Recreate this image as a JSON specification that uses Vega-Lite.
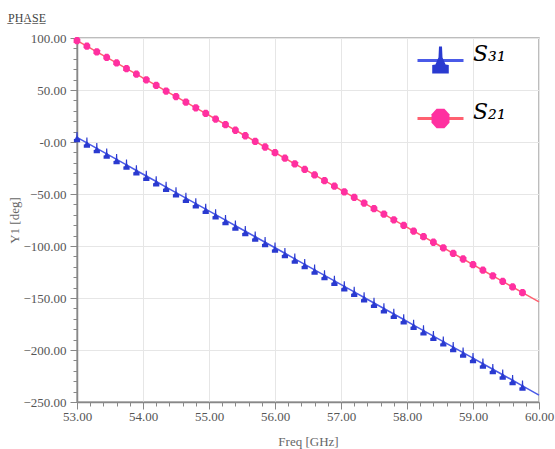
{
  "$schema": "https://vega.github.io/schema/vega-lite/v6.json",
  "width": 462,
  "height": 364,
  "autosize": "none",
  "padding": {"left": 77, "top": 38, "right": 16, "bottom": 47},
  "background": "white",
  "title": {
    "text": "P̲H̲A̲S̲E̲",
    "anchor": "start",
    "frame": "group",
    "dx": -69,
    "offset": -2,
    "baseline": "alphabetic",
    "font": "Liberation Serif",
    "fontSize": 12,
    "fontWeight": "normal",
    "color": "#444"
  },
  "config": {
    "view": {"stroke": "#a8a8a8", "strokeWidth": 1.5},
    "axis": {
      "labelFont": "Liberation Serif",
      "labelFontSize": 13,
      "labelColor": "#555",
      "titleFont": "Liberation Serif",
      "titleFontSize": 13,
      "titleFontWeight": "normal",
      "titleColor": "#666",
      "domainColor": "#888",
      "domainWidth": 1.5,
      "tickColor": "#888",
      "gridColor": "#e6e6e6",
      "labelOverlap": false,
      "labelFlush": false
    }
  },
  "data": {
    "values": [
      {"f": 53.00, "p": 97.5, "s": "S₂₁"},
      {"f": 53.15, "p": 92.1, "s": "S₂₁"},
      {"f": 53.30, "p": 86.7, "s": "S₂₁"},
      {"f": 53.45, "p": 81.3, "s": "S₂₁"},
      {"f": 53.60, "p": 76.0, "s": "S₂₁"},
      {"f": 53.75, "p": 70.6, "s": "S₂₁"},
      {"f": 53.90, "p": 65.2, "s": "S₂₁"},
      {"f": 54.05, "p": 59.8, "s": "S₂₁"},
      {"f": 54.20, "p": 54.4, "s": "S₂₁"},
      {"f": 54.35, "p": 49.0, "s": "S₂₁"},
      {"f": 54.50, "p": 43.7, "s": "S₂₁"},
      {"f": 54.65, "p": 38.3, "s": "S₂₁"},
      {"f": 54.80, "p": 32.9, "s": "S₂₁"},
      {"f": 54.95, "p": 27.5, "s": "S₂₁"},
      {"f": 55.10, "p": 22.1, "s": "S₂₁"},
      {"f": 55.25, "p": 16.7, "s": "S₂₁"},
      {"f": 55.40, "p": 11.3, "s": "S₂₁"},
      {"f": 55.55, "p": 6.0, "s": "S₂₁"},
      {"f": 55.70, "p": 0.6, "s": "S₂₁"},
      {"f": 55.85, "p": -4.8, "s": "S₂₁"},
      {"f": 56.00, "p": -10.2, "s": "S₂₁"},
      {"f": 56.15, "p": -15.6, "s": "S₂₁"},
      {"f": 56.30, "p": -21.0, "s": "S₂₁"},
      {"f": 56.45, "p": -26.4, "s": "S₂₁"},
      {"f": 56.60, "p": -31.7, "s": "S₂₁"},
      {"f": 56.75, "p": -37.1, "s": "S₂₁"},
      {"f": 56.90, "p": -42.5, "s": "S₂₁"},
      {"f": 57.05, "p": -47.9, "s": "S₂₁"},
      {"f": 57.20, "p": -53.3, "s": "S₂₁"},
      {"f": 57.35, "p": -58.7, "s": "S₂₁"},
      {"f": 57.50, "p": -64.1, "s": "S₂₁"},
      {"f": 57.65, "p": -69.4, "s": "S₂₁"},
      {"f": 57.80, "p": -74.8, "s": "S₂₁"},
      {"f": 57.95, "p": -80.2, "s": "S₂₁"},
      {"f": 58.10, "p": -85.6, "s": "S₂₁"},
      {"f": 58.25, "p": -91.0, "s": "S₂₁"},
      {"f": 58.40, "p": -96.4, "s": "S₂₁"},
      {"f": 58.55, "p": -101.7, "s": "S₂₁"},
      {"f": 58.70, "p": -107.1, "s": "S₂₁"},
      {"f": 58.85, "p": -112.5, "s": "S₂₁"},
      {"f": 59.00, "p": -117.9, "s": "S₂₁"},
      {"f": 59.15, "p": -123.3, "s": "S₂₁"},
      {"f": 59.30, "p": -128.7, "s": "S₂₁"},
      {"f": 59.45, "p": -134.1, "s": "S₂₁"},
      {"f": 59.60, "p": -139.4, "s": "S₂₁"},
      {"f": 59.75, "p": -144.8, "s": "S₂₁"},
      {"f": 60.00, "p": -153.8, "s": "S₂₁"},
      {"f": 53.00, "p": 4.5, "s": "S₃₁"},
      {"f": 53.15, "p": -0.8, "s": "S₃₁"},
      {"f": 53.30, "p": -6.1, "s": "S₃₁"},
      {"f": 53.45, "p": -11.4, "s": "S₃₁"},
      {"f": 53.60, "p": -16.7, "s": "S₃₁"},
      {"f": 53.75, "p": -22.0, "s": "S₃₁"},
      {"f": 53.90, "p": -27.4, "s": "S₃₁"},
      {"f": 54.05, "p": -32.7, "s": "S₃₁"},
      {"f": 54.20, "p": -38.0, "s": "S₃₁"},
      {"f": 54.35, "p": -43.3, "s": "S₃₁"},
      {"f": 54.50, "p": -48.6, "s": "S₃₁"},
      {"f": 54.65, "p": -53.9, "s": "S₃₁"},
      {"f": 54.80, "p": -59.2, "s": "S₃₁"},
      {"f": 54.95, "p": -64.5, "s": "S₃₁"},
      {"f": 55.10, "p": -69.8, "s": "S₃₁"},
      {"f": 55.25, "p": -75.2, "s": "S₃₁"},
      {"f": 55.40, "p": -80.5, "s": "S₃₁"},
      {"f": 55.55, "p": -85.8, "s": "S₃₁"},
      {"f": 55.70, "p": -91.1, "s": "S₃₁"},
      {"f": 55.85, "p": -96.4, "s": "S₃₁"},
      {"f": 56.00, "p": -101.7, "s": "S₃₁"},
      {"f": 56.15, "p": -107.0, "s": "S₃₁"},
      {"f": 56.30, "p": -112.3, "s": "S₃₁"},
      {"f": 56.45, "p": -117.6, "s": "S₃₁"},
      {"f": 56.60, "p": -122.9, "s": "S₃₁"},
      {"f": 56.75, "p": -128.3, "s": "S₃₁"},
      {"f": 56.90, "p": -133.6, "s": "S₃₁"},
      {"f": 57.05, "p": -138.9, "s": "S₃₁"},
      {"f": 57.20, "p": -144.2, "s": "S₃₁"},
      {"f": 57.35, "p": -149.5, "s": "S₃₁"},
      {"f": 57.50, "p": -154.8, "s": "S₃₁"},
      {"f": 57.65, "p": -160.1, "s": "S₃₁"},
      {"f": 57.80, "p": -165.4, "s": "S₃₁"},
      {"f": 57.95, "p": -170.7, "s": "S₃₁"},
      {"f": 58.10, "p": -176.0, "s": "S₃₁"},
      {"f": 58.25, "p": -181.4, "s": "S₃₁"},
      {"f": 58.40, "p": -186.7, "s": "S₃₁"},
      {"f": 58.55, "p": -192.0, "s": "S₃₁"},
      {"f": 58.70, "p": -197.3, "s": "S₃₁"},
      {"f": 58.85, "p": -202.6, "s": "S₃₁"},
      {"f": 59.00, "p": -207.9, "s": "S₃₁"},
      {"f": 59.15, "p": -213.2, "s": "S₃₁"},
      {"f": 59.30, "p": -218.5, "s": "S₃₁"},
      {"f": 59.45, "p": -223.8, "s": "S₃₁"},
      {"f": 59.60, "p": -229.1, "s": "S₃₁"},
      {"f": 59.75, "p": -234.5, "s": "S₃₁"},
      {"f": 60.00, "p": -243.3, "s": "S₃₁"}
    ]
  },
  "encoding": {
    "x": {
      "field": "f",
      "type": "quantitative",
      "scale": {"domain": [53, 60], "nice": false, "zero": false},
      "axis": {
        "title": "Freq [GHz]",
        "values": [53, 53.2, 53.4, 53.6, 53.8, 54, 54.2, 54.4, 54.6, 54.8, 55, 55.2, 55.4, 55.6, 55.8, 56, 56.2, 56.4, 56.6, 56.8, 57, 57.2, 57.4, 57.6, 57.8, 58, 58.2, 58.4, 58.6, 58.8, 59, 59.2, 59.4, 59.6, 59.8, 60],
        "labelExpr": "abs(datum.value - round(datum.value)) < 0.01 ? format(datum.value, '.2f') : ''",
        "tickSize": {"condition": {"test": "abs(datum.value - round(datum.value)) < 0.01", "value": 7}, "value": 4},
        "gridOpacity": {"condition": {"test": "abs(datum.value - round(datum.value)) < 0.01", "value": 1}, "value": 0},
        "labelPadding": 1,
        "titlePadding": 12
      }
    },
    "y": {
      "field": "p",
      "type": "quantitative",
      "scale": {"domain": [-250, 100], "nice": false, "zero": false},
      "axis": {
        "title": "Y1 [deg]",
        "values": [-250, -240, -230, -220, -210, -200, -190, -180, -170, -160, -150, -140, -130, -120, -110, -100, -90, -80, -70, -60, -50, -40, -30, -20, -10, 0, 10, 20, 30, 40, 50, 60, 70, 80, 90, 100],
        "labelExpr": "datum.value % 50 === 0 ? (datum.value === 0 ? '-0.00' : format(datum.value, '.2f')) : ''",
        "tickSize": {"condition": {"test": "datum.value % 50 === 0", "value": 7}, "value": 4},
        "gridOpacity": {"condition": {"test": "datum.value % 50 === 0", "value": 1}, "value": 0},
        "labelPadding": 4,
        "titlePadding": 1
      }
    }
  },
  "layer": [
    {
      "mark": {"type": "line", "strokeWidth": 1.5},
      "encoding": {
        "color": {
          "field": "s",
          "type": "nominal",
          "scale": {"domain": ["S₃₁", "S₂₁"], "range": ["#4a5ae8", "#ff6070"]},
          "legend": {
            "orient": "none",
            "legendX": 339,
            "legendY": -2,
            "title": null,
            "padding": 0,
            "symbolType": "stroke",
            "symbolSize": 2116,
            "symbolStrokeWidth": 3,
            "rowPadding": 27,
            "labelFont": "DejaVu Serif",
            "labelFontStyle": "italic",
            "labelFontSize": 22,
            "labelColor": "#000",
            "labelOffset": 8,
            "labelBaseline": "alphabetic",
            "encode": {
              "symbols": {
                "update": {
                  "stroke": {"signal": "datum.value === 'S₃₁' ? '#1030f0' : '#ff2020'"},
                  "strokeWidth": {"value": 3}
                }
              }
            }
          }
        }
      }
    },
    {
      "transform": [{"filter": "datum.f < 59.9"}],
      "mark": {"type": "point", "filled": true, "opacity": 1, "size": 300},
      "encoding": {
        "fill": {
          "field": "s",
          "type": "nominal",
          "sort": "descending",
          "scale": {"range": ["#2a3ad0", "#ff30a0"]},
          "legend": {
            "orient": "none",
            "legendX": 339,
            "legendY": -2,
            "title": null,
            "padding": 0,
            "symbolSize": 2116,
            "symbolStrokeWidth": 3,
            "symbolStrokeColor": "transparent",
            "rowPadding": 14,
            "labelFont": "DejaVu Serif",
            "labelFontStyle": "italic",
            "labelFontSize": 22,
            "labelColor": "transparent",
            "labelOffset": 8,
            "labelBaseline": "alphabetic"
          }
        },
        "shape": {
          "field": "s",
          "type": "nominal",
          "sort": "descending",
          "scale": {"range": ["M-0.065,-0.61L0.065,-0.61L0.087,-0.13L0.22,0.17L0.36,0.2L0.36,0.57L-0.36,0.57L-0.36,0.2L-0.22,0.17L-0.087,-0.13Z", "M-0.17,-0.42L0.17,-0.42L0.39,-0.18L0.39,0.18L0.17,0.42L-0.17,0.42L-0.39,0.18L-0.39,-0.18Z"]}
        }
      }
    }
  ]
}
